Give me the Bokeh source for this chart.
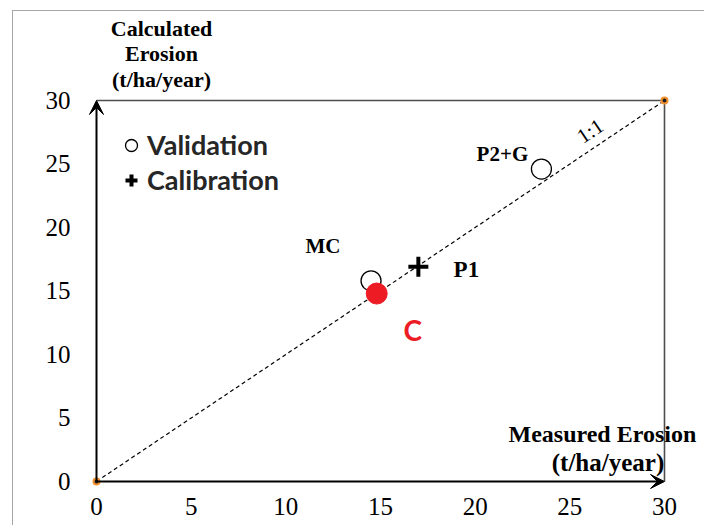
from bokeh.plotting import figure
from bokeh.models import (Range1d, FixedTicker, Arrow, VeeHead, Legend, LegendItem,
                          ColumnDataSource)
from bokeh.core.properties import value
from bokeh.embed import file_html
from bokeh.resources import INLINE

# ---- data ----
ticks = [0, 5, 10, 15, 20, 25, 30]
axis_min, axis_max = 0, 30

validation_names = ["MC", "P2+G"]
validation_measured = [14.5, 23.5]
validation_calculated = [15.8, 24.6]

calibration_names = ["P1"]
calibration_measured = [17.0]
calibration_calculated = [16.9]

c_names = ["C"]
c_measured = [14.8]
c_calculated = [14.8]

y_title_lines = ["Calculated", "Erosion", "(t/ha/year)"]
x_title_lines = ["Measured Erosion", "(t/ha/year)"]
one_to_one_label = "1:1"

# ---- figure ----
p = figure(width=704, height=525, output_backend="svg", toolbar_location=None,
           x_range=Range1d(-0.528, 32.113), y_range=Range1d(-0.709, 37.874),
           min_border_left=86, min_border_right=0, min_border_top=0, min_border_bottom=35,
           background_fill_alpha=0, border_fill_alpha=0)
# thin grey screenshot border (behind the transparent canvas)
p.styles = {
    "background": ("linear-gradient(#a6a6a6, #a6a6a6) 12px 10px / 1px calc(100% - 10px) no-repeat, "
                   "linear-gradient(#a6a6a6, #a6a6a6) 12px 10px / calc(100% - 12px) 1px no-repeat, "
                   "#ffffff")
}
p.grid.visible = False
p.outline_line_color = None
for ax in (p.xaxis[0], p.yaxis[0]):
    ax.ticker = FixedTicker(ticks=ticks)
    ax.axis_line_color = None
    ax.major_tick_line_color = None
    ax.minor_tick_line_color = None
    ax.major_tick_out = 0
    ax.major_tick_in = 0
    ax.minor_tick_out = 0
    ax.minor_tick_in = 0
    ax.major_label_text_font = "Liberation Serif"
    ax.major_label_text_font_size = "25px"
    ax.major_label_text_color = "#000000"
p.yaxis.major_label_standoff = 16
p.xaxis.major_label_standoff = 7

# box: top and right grey lines
p.line([axis_min, axis_max], [axis_max, axis_max], line_color="#4d4d4d", line_width=1.6)
p.line([axis_max, axis_max], [axis_min, axis_max], line_color="#4d4d4d", line_width=1.6)

# 1:1 dashed line
p.line([axis_min, axis_max], [axis_min, axis_max], line_color="black", line_width=1.2,
       line_dash="4 3")

# axes arrows
p.add_layout(Arrow(end=VeeHead(size=14, fill_color="black", line_color="black", line_width=1),
                   x_start=axis_min, y_start=axis_min, x_end=axis_min, y_end=axis_max,
                   line_width=2, line_color="black"))
p.add_layout(Arrow(end=VeeHead(size=14, fill_color="black", line_color="black", line_width=1),
                   x_start=axis_min, y_start=axis_min, x_end=axis_max, y_end=axis_min,
                   line_width=2, line_color="black"))

# end-point dots
p.scatter([axis_min, axis_max], [axis_min, axis_max], size=6, fill_color="#222222",
          line_color="#f39130", line_width=2)

# data points
src_v = ColumnDataSource(dict(x=validation_measured, y=validation_calculated,
                              name=validation_names, dx=[-48, -39], dy=[-35, -15]))
src_c = ColumnDataSource(dict(x=calibration_measured, y=calibration_calculated,
                              name=calibration_names, dx=[48], dy=[3]))
src_r = ColumnDataSource(dict(x=c_measured, y=c_calculated, name=c_names, dx=[36], dy=[36]))

rv = p.scatter("x", "y", source=src_v, marker="circle", size=20, fill_color=None,
               line_color="black", line_width=1.3)
rc = p.scatter("x", "y", source=src_c, marker="cross", size=20, line_color="black",
               line_width=4)
rr = p.scatter("x", "y", source=src_r, marker="circle", size=21, fill_color="#ed1c24",
               line_color="#ed1c24")

# point labels
p.text("x", "y", text="name", source=src_v, x_offset="dx", y_offset="dy",
       text_align="center", text_baseline="middle", text_font=value("Liberation Serif"),
       text_font_style="bold", text_font_size="21px", text_color="black")
p.text("x", "y", text="name", source=src_c, x_offset="dx", y_offset="dy",
       text_align="center", text_baseline="middle", text_font=value("Liberation Serif"),
       text_font_style="bold", text_font_size="23px", text_color="black")
p.text("x", "y", text="name", source=src_r, x_offset="dx", y_offset="dy",
       text_align="center", text_baseline="middle", text_font=value("Lato"),
       text_font_style="bold", text_font_size="28px", text_color="#ed1c24")

# 1:1 label
p.text(x=[26.5], y=[26.5], text=[one_to_one_label], x_offset=-8, y_offset=-14, angle=0.5908,
       text_align="center", text_baseline="middle", text_font=value("Liberation Serif"),
       text_font_size="21px", text_color="black")

# axis titles
p.text(x=[axis_min] * 3, y=[axis_max] * 3, text=y_title_lines, x_offset=65,
       y_offset=[-72, -46.5, -21], text_align="center", text_baseline="alphabetic",
       text_font=value("Liberation Serif"), text_font_style="bold", text_font_size="22px",
       text_color="black")
p.text(x=[axis_max], y=[axis_min], text=[x_title_lines[0]], x_offset=-156, y_offset=-47,
       text_align="left", text_baseline="alphabetic", text_font=value("Liberation Serif"),
       text_font_style="bold", text_font_size="24px", text_color="black")
p.text(x=[axis_max], y=[axis_min], text=[x_title_lines[1]], x_offset=-56.5, y_offset=-19,
       text_align="center", text_baseline="alphabetic", text_font=value("Liberation Serif"),
       text_font_style="bold", text_font_size="25px", text_color="black")

# legend
legend = Legend(items=[LegendItem(label="Validation", renderers=[rv]),
                       LegendItem(label="Calibration", renderers=[rc])],
                location=(30, 294), orientation="vertical", border_line_color=None,
                background_fill_alpha=0, padding=0, margin=0, spacing=2,
                glyph_width=30, glyph_height=30, label_height=30, label_standoff=1,
                label_text_font="Lato", label_text_font_style="bold",
                label_text_font_size="27px", label_text_color="#262626")
p.add_layout(legend)

open("out.html", "w").write(file_html(p, INLINE))
